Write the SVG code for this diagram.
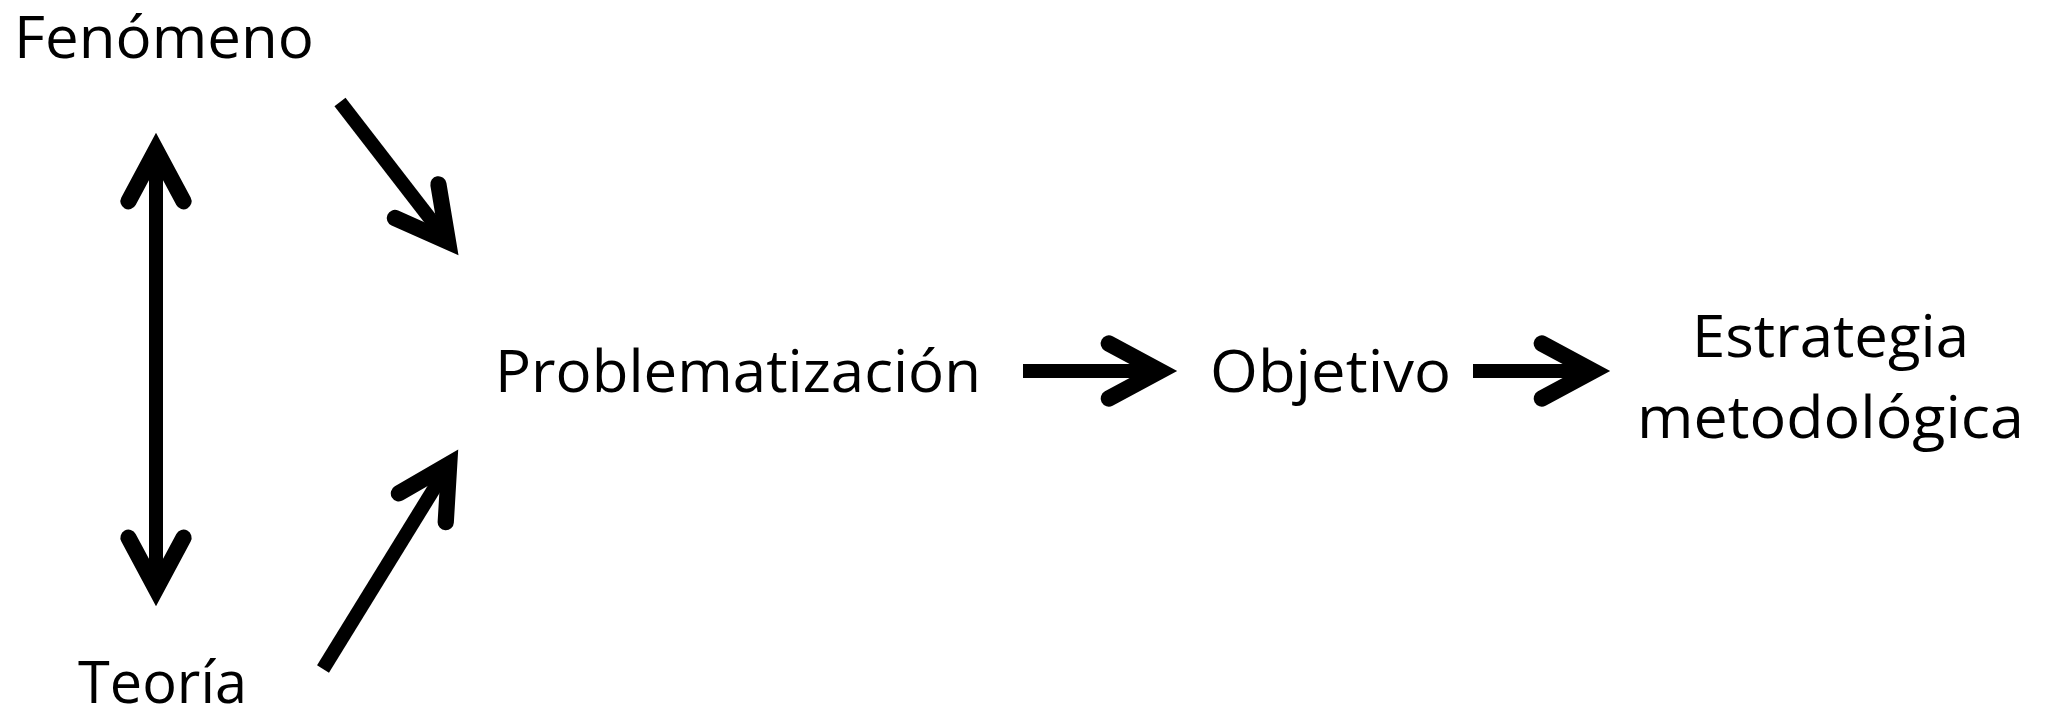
<svg xmlns="http://www.w3.org/2000/svg" width="2049" height="712" viewBox="0 0 2049 712">
<style>
.t{font-family:"Open Sans","Noto Sans","Liberation Sans",sans-serif;font-size:58px;fill:#000}
.c{stroke:#000;stroke-width:14;fill:none;stroke-linecap:butt}
</style>
<defs>
<marker id="ah" markerUnits="userSpaceOnUse" orient="auto-start-reverse" markerWidth="100" markerHeight="100" refX="0" refY="0" viewBox="-60 -40 80 80" overflow="visible">
<path d="M -41,-22 L 0,0 L -41,22" fill="none" stroke="#000" stroke-width="13" stroke-linecap="round" stroke-linejoin="miter"/>
</marker>
</defs>
<rect width="2049" height="712" fill="#fff"/>
<g id="connectors">
<line class="c" x1="156" y1="150" x2="156" y2="589" marker-start="url(#ah)" marker-end="url(#ah)"/>
<line class="c" x1="340" y1="102" x2="448" y2="241.7" marker-end="url(#ah)"/>
<line class="c" x1="323" y1="669" x2="449.2" y2="464.1" marker-end="url(#ah)"/>
<line class="c" x1="1023" y1="371" x2="1160" y2="371" marker-end="url(#ah)"/>
<line class="c" x1="1473" y1="371" x2="1593" y2="371" marker-end="url(#ah)"/>
</g>
<g id="fenomeno"><text class="t" x="14" y="58" textLength="300" lengthAdjust="spacingAndGlyphs">Fenómeno</text></g>
<g id="teoria"><text class="t" x="78" y="703" textLength="169" lengthAdjust="spacingAndGlyphs">Teoría</text></g>
<g id="problematizacion"><text class="t" x="495" y="392" textLength="486" lengthAdjust="spacingAndGlyphs">Problematización</text></g>
<g id="objetivo"><text class="t" x="1210" y="392" textLength="241" lengthAdjust="spacingAndGlyphs">Objetivo</text></g>
<g id="estrategia"><text class="t" x="1692" y="357" textLength="277" lengthAdjust="spacingAndGlyphs">Estrategia</text><text class="t" x="1637" y="438" textLength="387" lengthAdjust="spacingAndGlyphs">metodológica</text></g>
</svg>
